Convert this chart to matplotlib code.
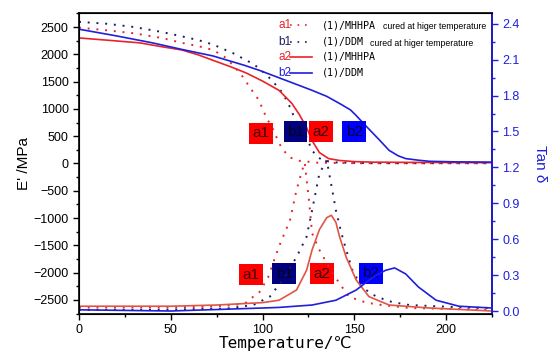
import matplotlib.pyplot as plt
from matplotlib.ticker import MultipleLocator

# Storage modulus E' (MPa) vs temperature
t_e_a1 = [0, 15, 30, 45, 56, 65, 73, 79, 84, 89, 93, 98, 102, 106, 109, 112, 115, 120, 130, 150, 225]
e_a1 = [2490, 2440, 2385, 2300, 2210, 2150, 2080, 1960, 1800, 1600, 1400, 1160, 850, 610, 370, 220, 110, 50, 15, 5, 5]
t_e_b1 = [0, 15, 30, 45, 56, 65, 73, 84, 94, 98, 105, 111, 115, 118, 124, 127, 130, 133, 140, 160, 225]
e_b1 = [2595, 2560, 2500, 2410, 2330, 2260, 2180, 2020, 1840, 1750, 1530, 1290, 1030, 790, 480, 240, 120, 55, 20, 5, 5]
t_e_a2 = [0, 15, 33, 45, 56, 65, 73, 82, 91, 100, 109, 116, 120, 124, 127, 131, 136, 142, 150, 160, 180, 225]
e_a2 = [2300, 2260, 2210, 2140, 2080, 1990, 1890, 1780, 1660, 1510, 1340, 1100, 900, 660, 420, 200, 90, 55, 35, 25, 20, 15]
t_e_b2 = [0, 20, 40, 56, 73, 90, 98, 109, 120, 127, 135, 143, 148, 151, 156, 160, 164, 169, 174, 178, 185, 191, 205, 225]
e_b2 = [2460, 2340, 2210, 2090, 1970, 1800, 1710, 1570, 1430, 1340, 1230, 1080, 980, 880, 700, 560, 420, 240, 140, 90, 60, 40, 30, 25]

# Loss factor tan delta vs temperature
t_d_a1 = [0, 40, 70, 85, 91, 95, 98, 103, 109, 115, 118.5, 121.7, 123, 124, 125.5, 127, 131, 138, 142, 147, 156.5, 165, 180, 225]
d_a1 = [0.03, 0.03, 0.035, 0.05, 0.07, 0.12, 0.15, 0.28, 0.54, 0.76, 1.01, 1.18, 1.24, 1.10, 0.90, 0.65, 0.51, 0.32, 0.23, 0.12, 0.07, 0.05, 0.025, 0.01]
t_d_b1 = [0, 40, 80, 95, 104, 111, 118.5, 124, 127, 131, 135, 138, 140, 143, 145.6, 149, 154, 162, 170.6, 180, 209, 225]
d_b1 = [0.01, 0.01, 0.02, 0.05, 0.12, 0.26, 0.45, 0.62, 0.84, 1.15, 1.26, 1.01, 0.84, 0.65, 0.51, 0.34, 0.20, 0.12, 0.075, 0.05, 0.03, 0.025]
t_d_a2 = [0, 50, 75, 100, 109, 118.5, 124, 127, 131, 135, 137.5, 140, 142, 145.6, 151, 158, 169, 191, 225]
d_a2 = [0.04, 0.04, 0.05, 0.07, 0.09, 0.175, 0.34, 0.51, 0.68, 0.78, 0.80, 0.74, 0.62, 0.45, 0.26, 0.12, 0.05, 0.025, 0.0]
t_d_b2 = [0, 50, 100, 109, 127, 140, 151, 160, 167, 172, 178, 185, 194.6, 207, 225]
d_b2 = [0.01, 0.0, 0.025, 0.03, 0.05, 0.09, 0.175, 0.28, 0.34, 0.36, 0.31, 0.20, 0.09, 0.04, 0.025]

RED = "#e8232a"
RED2 = "#e05545"
NAVY = "#1c1c64"
BLUE = "#1f1fdc"
dot = (0, (1, 3.5))

fig = plt.figure(figsize=(5.59, 3.54), dpi=100)
ax = fig.add_axes([0.1413, 0.113, 0.7387, 0.8503])
ax2 = ax.twinx()

ax.plot(t_e_a1, e_a1, color=RED, lw=1.4, ls=dot)
ax.plot(t_e_b1, e_b1, color=NAVY, lw=1.4, ls=dot)
ax.plot(t_e_a2, e_a2, color=RED, lw=1.2)
ax.plot(t_e_b2, e_b2, color=BLUE, lw=1.2)

ax2.plot(t_d_a1, d_a1, color=RED, lw=1.4, ls=dot)
ax2.plot(t_d_b1, d_b1, color=NAVY, lw=1.4, ls=dot)
ax2.plot(t_d_a2, d_a2, color=RED2, lw=1.2)
ax2.plot(t_d_b2, d_b2, color=BLUE, lw=1.2)

ax.set_xlim(0, 225)
ax.set_ylim(-2757, 2757)
ax2.set_ylim(-0.025, 2.49)

ax.xaxis.set_major_locator(MultipleLocator(50))
ax.xaxis.set_minor_locator(MultipleLocator(25))
ax.yaxis.set_major_locator(MultipleLocator(500))
ax.yaxis.set_minor_locator(MultipleLocator(250))
ax2.yaxis.set_major_locator(MultipleLocator(0.3))
ax2.yaxis.set_minor_locator(MultipleLocator(0.15))
ax2.yaxis.set_major_formatter(plt.FormatStrFormatter("%.1f"))

for a in (ax, ax2):
    a.tick_params(which="major", direction="out", length=4, width=1, labelsize=9)
    a.tick_params(which="minor", direction="out", length=2.5, width=1)
    for lab in a.get_xticklabels() + a.get_yticklabels():
        lab.set_family("Liberation Sans")
ax2.tick_params(axis="y", which="both", colors=BLUE, labelcolor=BLUE)
ax2.spines["right"].set_color(BLUE)
for s in ax.spines.values():
    s.set_linewidth(1.2)
ax2.spines["right"].set_linewidth(1.2)

ax.set_xlabel("Temperature/\u2103", family=["DejaVu Sans Mono", "DejaVu Sans"], fontsize=11.5, labelpad=0)
ax.set_ylabel("E' /MPa", family="Liberation Sans", fontsize=11, labelpad=2)
ax2.set_ylabel("Tan \u03b4", family="Liberation Sans", fontsize=11, color=BLUE, rotation=270, labelpad=20)

# coloured tag boxes
tags = [("a1", 99, 550, "#ff0000", "#400000"), ("b1", 118, 580, "#000080", "#000020"),
        ("a2", 132, 580, "#ff0000", "#400000"), ("b2", 150, 580, "#0000ff", "#000040"),
        ("a1", 93.7, -2040, "#ff0000", "#400000"), ("b1", 111.7, -2020, "#000080", "#000020"),
        ("a2", 132.3, -2020, "#ff0000", "#400000"), ("b2", 159, -2010, "#0000ff", "#000040")]
for txt, x, y, fc, tc in tags:
    ax.text(x, y, txt, ha="center", va="center", fontsize=11, color=tc, family="Liberation Sans",
            bbox=dict(boxstyle="square,pad=0.22", fc=fc, ec="none"), zorder=5)

# legend drawn by hand
rows = [("a1", RED, dot, "(1)/MHHPA", "cured at higer temperature", 0.736),
        ("b1", NAVY, dot, "(1)/DDM", "cured at higer temperature", 0.705),
        ("a2", RED, "-", "(1)/MHHPA", "", 0),
        ("b2", BLUE, "-", "(1)/DDM", "", 0)]
ys = [0.960, 0.904, 0.854, 0.801]
for (lab, c, ls, main, sub, sx), yy in zip(rows, ys):
    ax.text(0.482, yy, lab, transform=ax.transAxes, color=c, fontsize=8.5, va="center",
            family="Liberation Sans")
    ax.plot([0.511, 0.564], [yy, yy], transform=ax.transAxes, color=c, lw=1.2, ls=ls)
    ax.text(0.588, yy, main, transform=ax.transAxes, fontsize=7.2, va="center",
            family="DejaVu Sans Mono")
    if sub:
        ax.text(sx, yy - 0.004, sub, transform=ax.transAxes, fontsize=6.3, va="center",
                family="Liberation Sans")

fig.savefig("out.png", dpi=100)
